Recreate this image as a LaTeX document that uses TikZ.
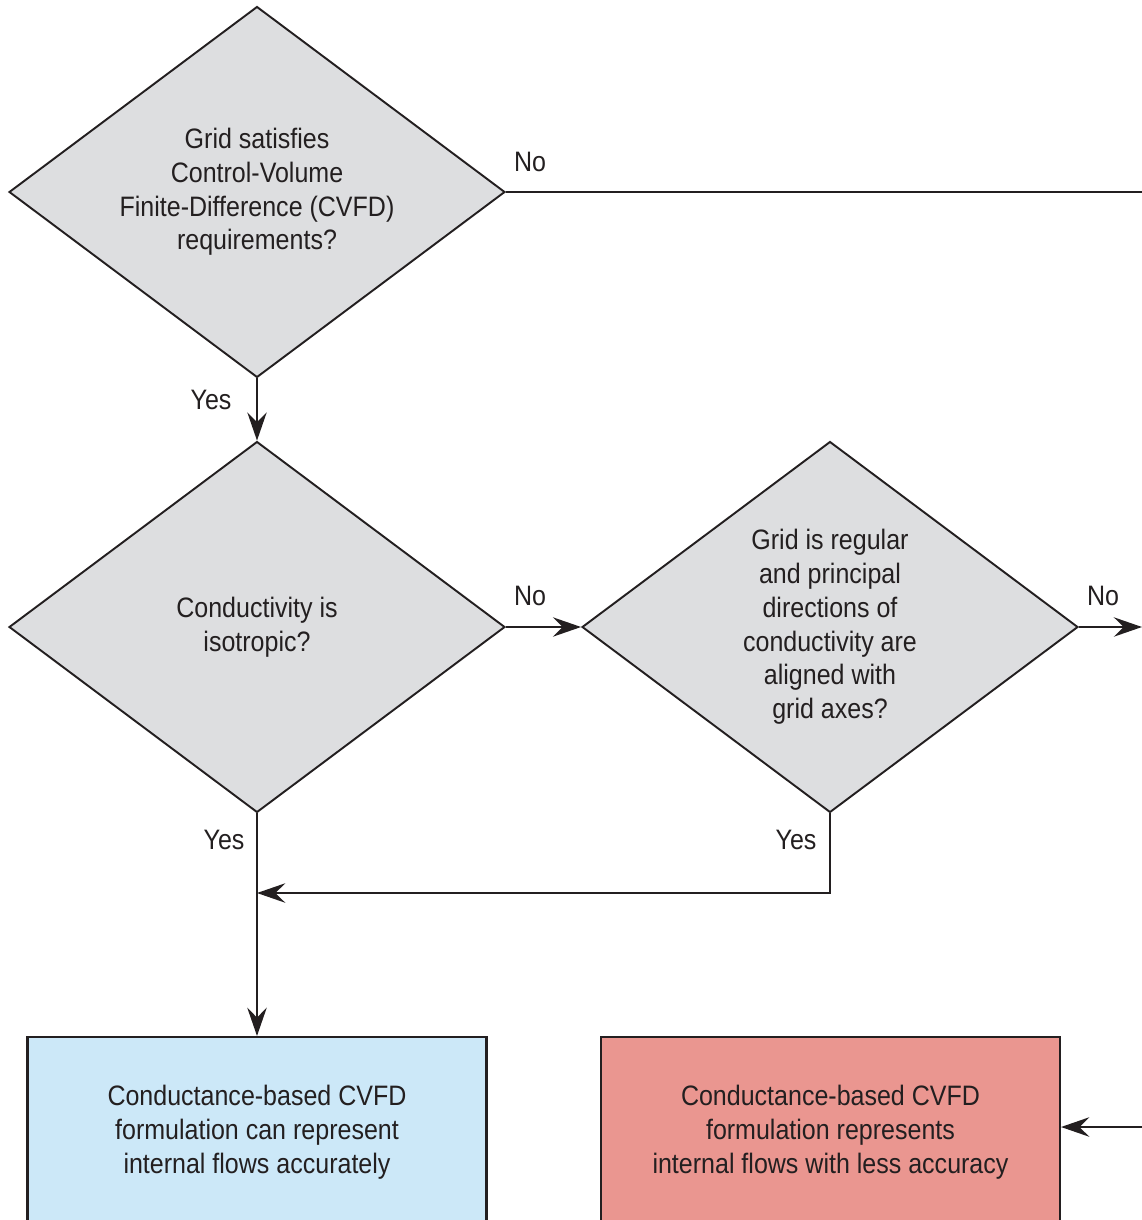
\documentclass[tikz,border=0pt]{standalone}
\usepackage{fontspec}
\setmainfont[FakeStretch=0.89]{Liberation Sans}
\usetikzlibrary{arrows.meta,shapes.geometric,positioning}
\definecolor{decgray}{RGB}{221,222,224}
\definecolor{okblue}{RGB}{204,232,248}
\definecolor{lessred}{RGB}{234,150,144}
\definecolor{inkgray}{RGB}{35,31,32}

\begin{document}
\begin{tikzpicture}[x=0.02cm, y=-0.02cm,
    >={Stealth[length=16pt,width=11pt,inset=5.5pt]},
    font=\fontsize{16}{19.2}\selectfont, text=inkgray,
    decision/.style={diamond, draw=inkgray, line width=1.1pt, fill=decgray,
      minimum width=9.92cm, minimum height=7.42cm, aspect=1.33,
      inner sep=0pt, align=center},
    result/.style={rectangle, draw=inkgray, line width=1.2pt,
      minimum width=9.18cm, minimum height=3.8cm, align=center},
    flow/.style={draw=inkgray, line width=1.45pt}]
  \useasboundingbox (0,0) rectangle (1142,1220);
  % Decisions
  \node[decision] (cvfd) at (257,192)
    {Grid satisfies\\Control-Volume\\Finite-Difference (CVFD)\\requirements?};
  \node[decision] (iso) at (257,627) {Conductivity is\\isotropic?};
  \node[decision] (aligned) at (830,627)
    {Grid is regular\\and principal\\directions of\\conductivity are\\aligned with\\grid axes?};
  % Outcomes
  \node[result, fill=okblue] (good) at (257,1132)
    {Conductance-based CVFD\\formulation can represent\\internal flows accurately};
  \node[result, fill=lessred] (less) at (830.5,1132)
    {Conductance-based CVFD\\formulation represents\\internal flows with less accuracy};
  % Off-page ends
  \coordinate (edge) at (1142,0);
  \coordinate (outa) at (cvfd.east -| edge);
  \coordinate (outb) at (aligned.east -| edge);
  \coordinate (outc) at (1142,1127);
  \coordinate (join) at (iso.south |- 0,893);
  % Arrows
  \draw[flow] (cvfd.east) -- (outa);
  \draw[flow,->] (cvfd.south) -- (iso.north);
  \draw[flow,->] (iso.east) -- (aligned.west);
  \draw[flow,->] (aligned.east) -- (outb);
  \draw[flow,->] (aligned.south) |- (join);
  \draw[flow,->] (iso.south) -- (good.north);
  \draw[flow,->] (outc) -- (less.east |- outc);
  % Labels
  \node (nocvfd) at (530,162) {No};
  \node (yescvfd) at (211,400) {Yes};
  \node (noiso) at (530,596) {No};
  \node (yesiso) at (224,840) {Yes};
  \node (noaligned) at (1103,596) {No};
  \node (yesaligned) at (796,840) {Yes};
\end{tikzpicture}
\end{document}
